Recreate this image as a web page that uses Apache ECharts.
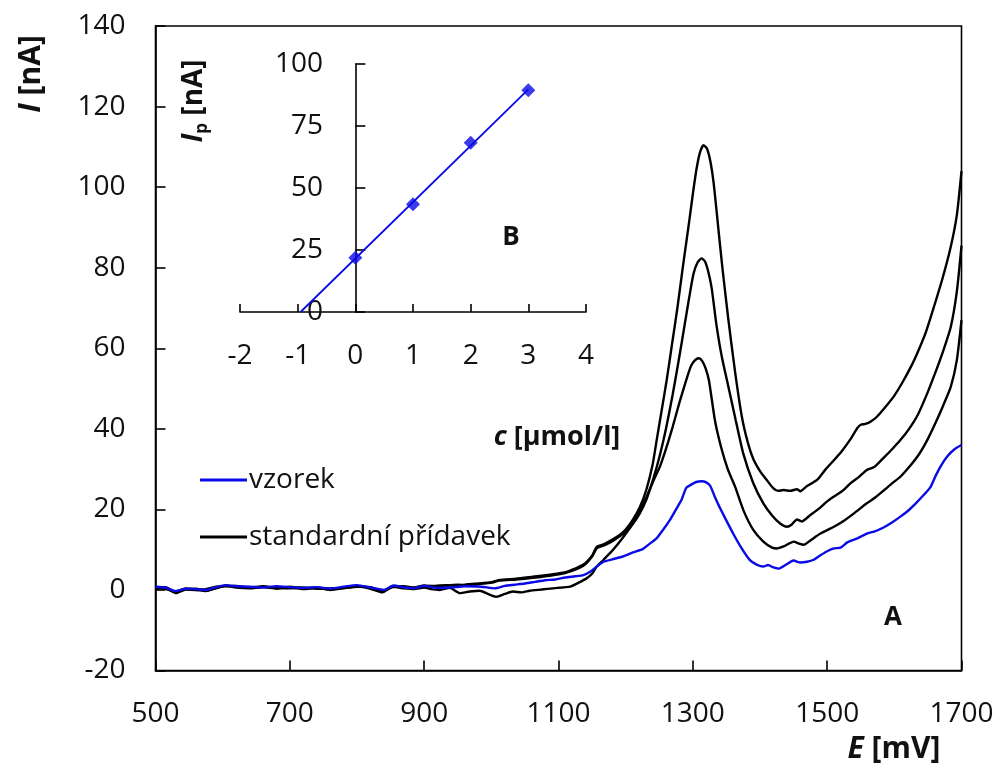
<!DOCTYPE html>
<html>
<head>
<meta charset="utf-8">
<script src="https://cdn.jsdelivr.net/npm/echarts@6/dist/echarts.min.js"></script>
<style>
html,body{margin:0;padding:0;background:#fff;}
#chart{width:999px;height:765px;}
</style>
</head>
<body>
<div id="chart"></div>
<script>
// ---------- DATA ----------
// Main chart: voltammograms, [E (mV), I (nA)]
const vzorek = [[500,0.8],[515,0.6],[530,-0.3],[545,0.3],[560,0.2],[575,0.0],[590,0.7],[605,1.2],[620,0.9],[640,0.8],[660,0.6],[680,0.9],[700,0.7],[720,0.5],[740,0.7],[760,0.3],[780,0.8],[800,1.2],[820,0.6],[840,0.0],[855,1.1],[870,0.6],[885,0.4],[900,1.0],[920,0.5],[940,0.6],[960,0.9],[985,0.8],[1005,0.4],[1020,1.0],[1035,1.3],[1050,1.6],[1065,2.0],[1080,2.4],[1095,2.6],[1110,3.1],[1125,3.4],[1137,3.7],[1147,4.5],[1157,5.8],[1167,7.0],[1180,7.6],[1196,8.3],[1211,9.3],[1226,10.2],[1236,11.5],[1246,12.8],[1256,15.0],[1266,17.4],[1275,20.0],[1283,22.3],[1290,25.3],[1298,26.2],[1305,26.8],[1313,27.0],[1320,26.7],[1326,25.8],[1333,23.0],[1340,20.5],[1350,17.2],[1360,14.0],[1372,10.5],[1385,7.4],[1395,6.3],[1405,5.8],[1412,6.2],[1420,5.6],[1428,5.3],[1438,6.2],[1450,7.3],[1460,6.8],[1470,7.0],[1480,7.5],[1490,8.6],[1500,9.6],[1510,10.3],[1520,10.5],[1530,11.8],[1545,12.8],[1559,14.0],[1570,14.5],[1584,15.5],[1597,16.8],[1609,18.2],[1620,19.6],[1632,21.5],[1645,23.8],[1654,25.6],[1662,28.5],[1670,31.0],[1679,33.2],[1690,35.0],[1700,36.0]];

const pridavek1 = [[500,0.2],[515,0.5],[530,-0.8],[545,0.1],[560,0.0],[575,-0.3],[590,0.4],[605,1.0],[620,0.6],[640,0.4],[660,0.7],[680,0.3],[700,0.6],[720,0.2],[740,0.5],[760,0.0],[780,0.4],[800,0.9],[820,0.3],[838,-0.6],[853,0.8],[870,0.4],[885,0.2],[900,0.6],[910,0.2],[923,0.0],[938,0.5],[953,-0.8],[968,-0.4],[983,-0.2],[995,-1.0],[1007,-1.7],[1020,-1.0],[1032,-0.4],[1045,-0.6],[1057,-0.2],[1075,0.1],[1092,0.4],[1105,0.6],[1117,0.8],[1130,1.8],[1142,2.9],[1150,4.0],[1157,5.8],[1167,7.5],[1181,9.9],[1196,13.0],[1211,16.5],[1221,19.5],[1231,23.1],[1241,27.0],[1251,30.6],[1260,35.0],[1270,40.5],[1280,46.5],[1290,52.0],[1297,55.5],[1303,57.0],[1309,57.5],[1314,56.8],[1319,55.0],[1324,52.0],[1333,42.0],[1342,35.5],[1352,30.0],[1363,25.6],[1376,19.5],[1390,14.9],[1405,12.0],[1418,10.5],[1425,10.3],[1435,10.8],[1443,11.5],[1450,12.0],[1458,11.5],[1465,11.2],[1475,12.3],[1490,14.0],[1510,15.7],[1525,17.2],[1540,19.0],[1559,21.5],[1572,23.0],[1585,24.8],[1597,26.5],[1609,28.1],[1622,30.5],[1636,33.5],[1649,37.2],[1660,41.0],[1672,45.5],[1684,50.4],[1693,57.0],[1700,67.0]];

const pridavek2 = [[500,0.6],[515,0.3],[530,-0.5],[545,0.4],[560,0.1],[575,0.2],[590,0.8],[605,0.9],[620,1.0],[640,0.5],[660,0.8],[680,0.6],[700,0.4],[720,0.6],[740,0.3],[760,0.4],[780,0.5],[800,0.8],[820,0.7],[838,-0.2],[853,0.7],[870,0.9],[885,0.6],[900,0.9],[915,1.0],[933,1.1],[950,1.3],[965,1.2],[983,1.5],[1000,1.8],[1012,2.3],[1037,2.6],[1062,3.0],[1087,3.5],[1112,4.3],[1137,6.0],[1150,8.3],[1157,10.4],[1167,11.0],[1177,11.8],[1190,13.2],[1200,14.5],[1211,16.5],[1221,19.0],[1231,22.5],[1241,27.5],[1251,33.5],[1260,40.0],[1270,48.5],[1280,58.0],[1288,66.0],[1295,73.0],[1301,78.5],[1307,81.3],[1313,82.3],[1318,81.6],[1323,79.0],[1328,75.0],[1335,66.0],[1343,58.0],[1353,50.4],[1364,42.0],[1375,33.9],[1390,26.5],[1405,21.5],[1418,18.5],[1430,16.5],[1440,15.7],[1447,16.2],[1455,17.5],[1462,17.0],[1475,18.6],[1490,20.5],[1500,22.0],[1510,23.2],[1522,24.5],[1535,26.5],[1547,28.0],[1559,29.8],[1570,30.5],[1584,32.8],[1597,35.0],[1609,37.2],[1622,40.0],[1635,43.5],[1649,48.8],[1660,53.5],[1672,59.0],[1684,65.3],[1693,74.0],[1700,85.5]];

const pridavek3 = [[500,0.4],[515,0.7],[530,-0.6],[545,0.2],[560,0.3],[575,-0.2],[590,0.5],[605,1.1],[620,0.8],[640,0.6],[660,0.9],[680,0.5],[700,0.8],[720,0.4],[740,0.6],[760,0.1],[780,0.6],[800,1.0],[820,0.5],[838,-0.4],[853,1.0],[870,0.7],[883,0.5],[900,1.1],[915,0.9],[933,1.2],[950,1.0],[965,1.4],[983,1.6],[1000,1.9],[1012,2.5],[1037,2.8],[1062,3.3],[1087,3.8],[1112,4.5],[1137,6.3],[1150,8.5],[1157,10.7],[1167,11.3],[1177,12.2],[1190,13.5],[1200,15.0],[1211,17.5],[1221,20.5],[1231,25.0],[1240,31.0],[1246,37.0],[1253,44.0],[1261,52.0],[1269,61.0],[1277,70.0],[1285,80.0],[1295,92.0],[1301,99.5],[1306,105.0],[1311,108.8],[1316,110.4],[1321,109.6],[1326,106.5],[1331,101.0],[1336,93.0],[1344,80.0],[1353,67.0],[1363,54.0],[1373,43.0],[1382,36.5],[1390,32.5],[1400,29.5],[1410,27.3],[1420,25.2],[1427,24.6],[1435,24.8],[1445,24.6],[1455,25.0],[1460,24.5],[1470,25.8],[1485,27.3],[1497,29.8],[1510,32.2],[1522,34.5],[1535,37.5],[1545,40.2],[1550,41.0],[1557,41.2],[1565,41.8],[1574,43.0],[1587,45.5],[1599,48.0],[1612,51.5],[1625,55.5],[1634,58.7],[1647,64.0],[1659,70.3],[1672,77.5],[1684,85.2],[1693,93.0],[1700,104.0]];

// Inset (B): standard addition calibration
const addedConc = [0, 1, 2, 3];            // c [µmol/l]
const peakCurrent = [21.9, 43.4, 68.2, 89.4]; // Ip [nA]
const fitLineX = [-0.95, 3];
const fitLineY = [0, 89.8];

// Axis tick settings
const mainXTicks = {min: 500, max: 1700, step: 200};
const mainYTicks = {min: -20, max: 140, step: 20};
const insetXTicks = {min: -2, max: 4, step: 1};
const insetYTicks = {min: 0, max: 100, step: 25};

// ---------- CHART ----------
const FONT = '"Open Sans", "Noto Sans", sans-serif';
const BLUE = '#0a0ae6';
const chart = echarts.init(document.getElementById('chart'), null, {renderer: 'canvas'});

const plain = v => String(v);
const labelStyle = {color: '#111', fontSize: 28, fontFamily: FONT, formatter: plain};
const axisLineStyle = {color: '#000', width: 1.6};

const option = {
  animation: false,
  backgroundColor: '#fff',
  grid: [
    {left: 155.5, top: 26, width: 806, height: 644.5, show: true, borderColor: '#000', borderWidth: 1.6, backgroundColor: 'transparent'},
    {left: 240, top: 64, width: 346, height: 248, show: false}
  ],
  legend: {
    data: ['vzorek', 'standardní přídavek'],
    orient: 'vertical',
    left: 195,
    top: 459,
    icon: 'rect',
    itemWidth: 47,
    itemHeight: 3,
    itemGap: 25,
    textStyle: {fontSize: 28, fontFamily: FONT, color: '#111', lineHeight: 32, padding: [0, 0, 0, -3]}
  },
  xAxis: [
    {
      gridIndex: 0, type: 'value', min: mainXTicks.min, max: mainXTicks.max, interval: mainXTicks.step,
      axisLine: {show: true, onZero: false, lineStyle: axisLineStyle},
      axisTick: {show: true, inside: true, length: 10, lineStyle: {color: '#000', width: 1.6}},
      axisLabel: Object.assign({margin: 30}, labelStyle),
      splitLine: {show: false}
    },
    {
      gridIndex: 1, type: 'value', min: insetXTicks.min, max: insetXTicks.max, interval: insetXTicks.step,
      axisLine: {show: true, onZero: true, lineStyle: axisLineStyle},
      axisTick: {show: true, inside: true, length: 8, lineStyle: {color: '#000', width: 1.6}},
      axisLabel: Object.assign({margin: 30}, labelStyle),
      splitLine: {show: false}
    }
  ],
  yAxis: [
    {
      gridIndex: 0, type: 'value', min: mainYTicks.min, max: mainYTicks.max, interval: mainYTicks.step,
      axisLine: {show: true, onZero: false, lineStyle: axisLineStyle},
      axisTick: {show: true, inside: true, length: 10, lineStyle: {color: '#000', width: 1.6}},
      axisLabel: Object.assign({margin: 30}, labelStyle),
      splitLine: {show: false}
    },
    {
      gridIndex: 1, type: 'value', min: insetYTicks.min, max: insetYTicks.max, interval: insetYTicks.step,
      axisLine: {show: true, onZero: true, lineStyle: axisLineStyle},
      axisTick: {show: true, inside: true, length: 10, lineStyle: {color: '#000', width: 1.6}},
      axisLabel: Object.assign({margin: -83}, labelStyle),
      splitLine: {show: false}
    }
  ],
  series: [
    {name: 'standardní přídavek', type: 'line', xAxisIndex: 0, yAxisIndex: 0, data: pridavek1, smooth: 0.2, showSymbol: false, symbol: 'none', lineStyle: {color: '#000', width: 2.4}, itemStyle: {color: '#000'}},
    {name: 'standardní přídavek', type: 'line', xAxisIndex: 0, yAxisIndex: 0, data: pridavek2, smooth: 0.2, showSymbol: false, symbol: 'none', lineStyle: {color: '#000', width: 2.4}, itemStyle: {color: '#000'}},
    {name: 'standardní přídavek', type: 'line', xAxisIndex: 0, yAxisIndex: 0, data: pridavek3, smooth: 0.2, showSymbol: false, symbol: 'none', lineStyle: {color: '#000', width: 2.4}, itemStyle: {color: '#000'}},
    {name: 'vzorek', type: 'line', xAxisIndex: 0, yAxisIndex: 0, data: vzorek, smooth: 0.2, showSymbol: false, symbol: 'none', lineStyle: {color: BLUE, width: 2.4}, itemStyle: {color: BLUE}, z: 3},
    {name: 'fit', type: 'line', xAxisIndex: 1, yAxisIndex: 1, data: fitLineX.map((x, i) => [x, fitLineY[i]]), showSymbol: false, symbol: 'none', lineStyle: {color: BLUE, width: 1.8}},
    {name: 'kalibrace', type: 'scatter', xAxisIndex: 1, yAxisIndex: 1, data: addedConc.map((x, i) => [x, peakCurrent[i]]), symbol: 'diamond', symbolSize: 14, itemStyle: {color: BLUE}, z: 4}
  ],
  graphic: [
    {type: 'text', x: 31, y: 74, rotation: Math.PI / 2, style: {
      text: '{i|I}{b| [nA]}', align: 'center', verticalAlign: 'middle',
      rich: {i: {fontSize: 30, fontWeight: 'bold', fontStyle: 'italic', fontFamily: FONT, fill: '#111'}, b: {fontSize: 30, fontWeight: 'bold', fontFamily: FONT, fill: '#111'}}
    }},
    {type: 'text', x: 194, y: 101, rotation: Math.PI / 2, style: {
      text: '{i|I}{s|p}{b| [nA]}', align: 'center', verticalAlign: 'middle',
      rich: {
        i: {fontSize: 28, fontWeight: 'bold', fontStyle: 'italic', fontFamily: FONT, fill: '#111', lineHeight: 34, verticalAlign: 'middle'},
        s: {fontSize: 17, fontWeight: 'bold', fontFamily: FONT, fill: '#111', lineHeight: 34, verticalAlign: 'bottom'},
        b: {fontSize: 28, fontWeight: 'bold', fontFamily: FONT, fill: '#111', lineHeight: 34, verticalAlign: 'middle'}
      }
    }},
    {type: 'text', x: 894, y: 749, style: {
      text: '{i|E}{b| [mV]}', align: 'center', verticalAlign: 'middle',
      rich: {i: {fontSize: 30, fontWeight: 'bold', fontStyle: 'italic', fontFamily: FONT, fill: '#111'}, b: {fontSize: 30, fontWeight: 'bold', fontFamily: FONT, fill: '#111'}}
    }},
    {type: 'text', x: 557, y: 437, style: {
      text: '{i|c}{b| [µmol/l]}', align: 'center', verticalAlign: 'middle',
      rich: {i: {fontSize: 27, fontWeight: 'bold', fontStyle: 'italic', fontFamily: FONT, fill: '#111'}, b: {fontSize: 27, fontWeight: 'bold', fontFamily: FONT, fill: '#111'}}
    }},
    {type: 'text', x: 893, y: 618, style: {text: 'A', align: 'center', verticalAlign: 'middle', fontSize: 26, fontWeight: 'bold', fontFamily: FONT, fill: '#111'}},
    {type: 'text', x: 511, y: 238, style: {text: 'B', align: 'center', verticalAlign: 'middle', fontSize: 26, fontWeight: 'bold', fontFamily: FONT, fill: '#111'}}
  ]
};
chart.setOption(option);
</script>
</body>
</html>
